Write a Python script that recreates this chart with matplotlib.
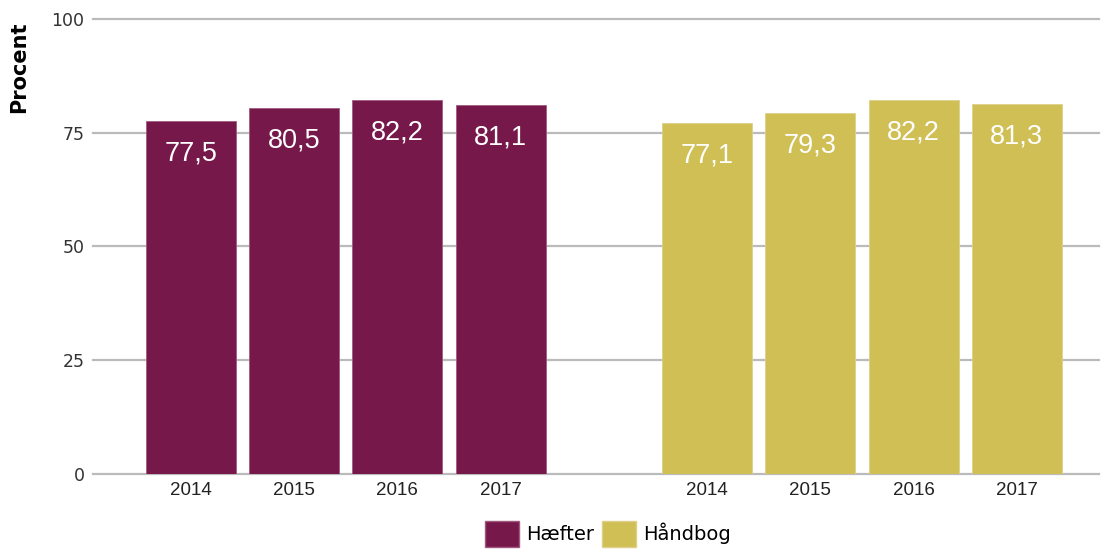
import matplotlib.pyplot as plt
from matplotlib.patches import Patch

# data
years = ['2014', '2015', '2016', '2017']
haefter = [77.5, 80.5, 82.2, 81.1]
haandbog = [77.1, 79.3, 82.2, 81.3]
series_names = ['Hæfter', 'Håndbog']

purple = '#77184a'
gold = '#d0bf55'

fig = plt.figure(figsize=(11.05, 5.51), dpi=100)
ax = fig.add_axes([0.084, 0.1397, 0.911, 0.826])

pos1 = [0, 1, 2, 3]
pos2 = [5, 6, 7, 8]
b1 = ax.bar(pos1, haefter, width=0.87, color=purple, edgecolor='#a05a7e', linewidth=0.6, zorder=3)
b2 = ax.bar(pos2, haandbog, width=0.87, color=gold, edgecolor='#ddd08a', linewidth=0.6, zorder=3)

# værdier i søjlerne
for bars, vals in [(b1, haefter), (b2, haandbog)]:
    for b, v in zip(bars, vals):
        ax.annotate(f'{v:.1f}'.replace('.', ','),
                    (b.get_x() + b.get_width() / 2, v),
                    xytext=(0, -23.5), textcoords='offset points',
                    ha='center', va='center', color='white',
                    fontsize=19.5, family='Liberation Sans', zorder=4)

ax.set_xlim(-0.95, 8.8)
ax.set_ylim(0, 100)
ax.set_yticks([0, 25, 50, 75, 100])
ax.set_xticks(pos1 + pos2)
ax.set_xticklabels(years + years, family='Liberation Sans', fontsize=13.5, color='#222222')
ax.tick_params(axis='x', length=0, pad=6)
ax.tick_params(axis='y', length=0, pad=6, labelsize=12.5, labelcolor='#333333')

ax.grid(axis='y', color='#bbbbbb', linewidth=1.6, zorder=0)
for gl in ax.get_ygridlines():
    gl.set_clip_on(False)
for s in ax.spines.values():
    s.set_visible(False)

fig.text(19.5 / 1105, 1 - 67.5 / 551, 'Procent', rotation=90, ha='center', va='center',
         fontsize=15, fontweight='bold')

handles = [Patch(facecolor=purple, edgecolor='#a05a7e'), Patch(facecolor=gold, edgecolor='#ddd08a')]
fig.legend(handles, series_names, loc='center', bbox_to_anchor=(608 / 1105, 1 - 534 / 551),
           ncol=2, frameon=False, fontsize=14, handlelength=1.75, handleheight=1.65,
           handletextpad=0.36, columnspacing=0.4, borderpad=0)

plt.savefig('out.png', dpi=100)
